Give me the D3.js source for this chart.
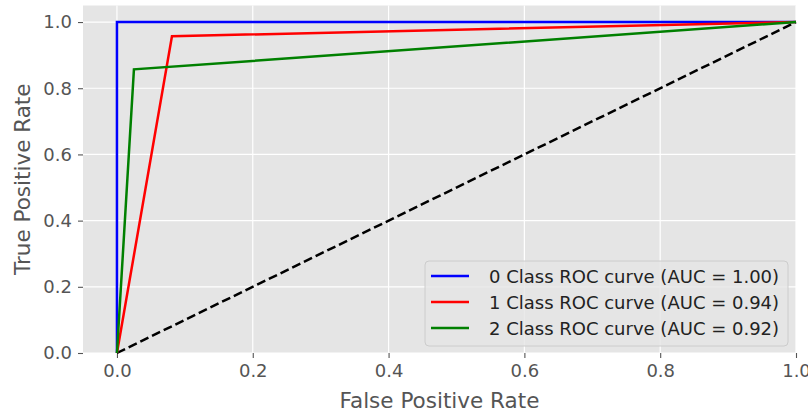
<!DOCTYPE html>
<html>
<head>
<meta charset="utf-8">
<script src="https://cdn.jsdelivr.net/npm/d3@7"></script>
<style>
  body { margin: 0; background: #fff; }
  svg text { font-family: "DejaVu Sans", sans-serif; }
</style>
</head>
<body>
<svg id="chart" width="808" height="412"></svg>
<script>
// ROC curve points per class
const classNames = ["0", "1", "2"];
const aucValues = [1.00, 0.94, 0.92];
const fprValues = [
    [0, 0, 1],
    [0, 0.081, 1],
    [0, 0.025, 1]
];
const tprValues = [
    [0, 1, 1],
    [0, 0.957, 1],
    [0, 0.857, 1]
];
const chanceLine = [[0, 0], [1, 1]];
const tickValues = [0, 0.2, 0.4, 0.6, 0.8, 1.0];
const colors = ["blue", "red", "green"];

let svg = d3.select("#chart");
let plotLeft = 83, plotRight = 796, plotTop = 5.5, plotBottom = 353;

let x = d3.scaleLinear().domain([-0.05, 1.0]).range([plotLeft, plotRight]);
let y = d3.scaleLinear().domain([0, 1.05]).range([plotBottom, plotTop]);

// background
svg.append("rect")
    .attr("x", plotLeft).attr("y", plotTop)
    .attr("width", plotRight - plotLeft).attr("height", plotBottom - plotTop)
    .attr("fill", "#e5e5e5");

// grid
let grid = svg.append("g");
grid.selectAll(".vg").data(tickValues).enter().append("line")
    .attr("x1", d => x(d)).attr("x2", d => x(d))
    .attr("y1", plotTop).attr("y2", plotBottom)
    .attr("stroke", "#fff").attr("stroke-width", 1.2);
grid.selectAll(".hg").data(tickValues).enter().append("line")
    .attr("x1", plotLeft).attr("x2", plotRight)
    .attr("y1", d => y(d)).attr("y2", d => y(d))
    .attr("stroke", "#fff").attr("stroke-width", 1.2);

// axes
let xAxis = svg.append("g")
    .attr("transform", "translate(0," + plotBottom + ")")
    .call(d3.axisBottom(x).tickValues(tickValues).tickFormat(d3.format(".1f")).tickSize(5).tickPadding(6));
let yAxis = svg.append("g")
    .attr("transform", "translate(" + plotLeft + ",0)")
    .call(d3.axisLeft(y).tickValues(tickValues).tickFormat(d3.format(".1f")).tickSize(5).tickPadding(6));

[xAxis, yAxis].forEach(function(a) {
    a.select(".domain").remove();
    a.selectAll(".tick line").attr("stroke", "#555").attr("stroke-width", 1.1);
    a.selectAll(".tick text")
        .attr("fill", "#555")
        .style("font-size", "18px")
        .style("font-family", "DejaVu Sans");
});

// chance line
svg.append("path")
    .datum(chanceLine)
    .attr("d", d3.line().x(d => x(d[0])).y(d => y(d[1])))
    .attr("fill", "none")
    .attr("stroke", "black")
    .attr("stroke-width", 2.5)
    .attr("stroke-dasharray", "9,4");

// ROC curves
let line = d3.line().x(d => x(d[0])).y(d => y(d[1]));
classNames.forEach(function(c, i) {
    let pts = fprValues[i].map((f, j) => [f, tprValues[i][j]]);
    svg.append("path")
        .datum(pts)
        .attr("d", line)
        .attr("fill", "none")
        .attr("stroke", colors[i])
        .attr("stroke-width", 2.5)
        .attr("stroke-linejoin", "miter");
});

// axis labels
svg.append("text")
    .attr("x", (plotLeft + plotRight) / 2).attr("y", 408)
    .attr("text-anchor", "middle")
    .attr("fill", "#555")
    .style("font-size", "21.5px")
    .text("False Positive Rate");
svg.append("text")
    .attr("transform", "translate(30," + (plotTop + plotBottom) / 2 + ") rotate(-90)")
    .attr("text-anchor", "middle")
    .attr("fill", "#555")
    .style("font-size", "21.5px")
    .text("True Positive Rate");

// legend
let legend = svg.append("g");
legend.append("rect")
    .attr("x", 425).attr("y", 261)
    .attr("width", 363).attr("height", 85)
    .attr("rx", 4)
    .attr("fill", "#e5e5e5").attr("fill-opacity", 0.8)
    .attr("stroke", "#cccccc");
let rows = legend.selectAll(".row").data(classNames).enter().append("g")
    .attr("transform", (d, i) => "translate(0," + (276 + i * 26) + ")");
rows.append("line")
    .attr("x1", 431).attr("x2", 469)
    .attr("stroke", (d, i) => colors[i])
    .attr("stroke-width", 2.5);
rows.append("text")
    .attr("x", 489).attr("y", 6.5)
    .attr("fill", "#222")
    .style("font-size", "18px")
    .text((d, i) => d + " Class ROC curve (AUC = " + aucValues[i].toFixed(2) + ")");
</script>
</body>
</html>
